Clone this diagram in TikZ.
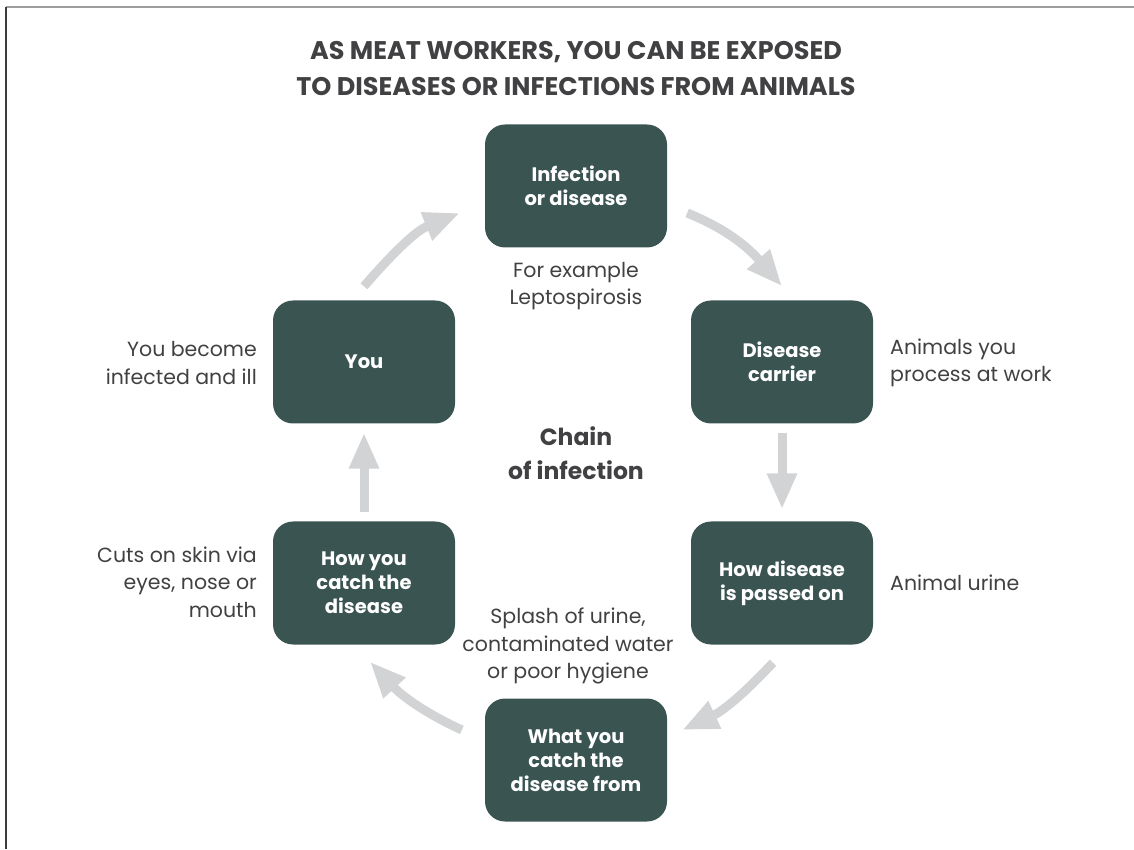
\documentclass[tikz,border=0pt]{standalone}
\usepackage{fontspec}
\setmainfont{Poppins}
\usetikzlibrary{arrows.meta,calc}
\definecolor{boxgreen}{HTML}{3A5452}
\definecolor{inkgray}{HTML}{414042}
\definecolor{arrowgray}{HTML}{D1D3D4}
\definecolor{framegray}{HTML}{9D9D9D}
\definecolor{framedark}{HTML}{3C3C3C}
\begin{document}
\begin{tikzpicture}[x=1pt,y=1pt,
            chainbox/.style={fill=boxgreen,rounded corners=20pt,minimum width=182pt,minimum height=123pt,
                text=white,align=center,font=\fontsize{19.5}{24}\selectfont\bfseries},
            sidenote/.style={text=inkgray,inner sep=0pt,font=\fontsize{20.5}{27.5}\selectfont},
            flow/.style={draw=arrowgray,line width=9pt,-{Triangle[width=28pt,length=36pt]}}]
            \useasboundingbox (0,0) rectangle (1134,849);
            \draw[framegray,line width=2pt] (6,842) -- (1134,842);
            \draw[framedark,line width=1.5pt] (6,842) -- (6,0);
            \node[text=inkgray,align=center,font=\fontsize{25.5}{36}\selectfont\bfseries] (title) at (576,780)
                {AS MEAT WORKERS, YOU CAN BE EXPOSED\\TO DISEASES OR INFECTIONS FROM ANIMALS};
            \node[chainbox] (infection) at (576,663) {Infection\\or disease};
            \node[chainbox] (carrier) at (782,487) {Disease\\carrier};
            \node[chainbox] (passed) at (782,266) {How disease\\is passed on};
            \node[chainbox] (source) at (576,89) {What you\\catch the\\disease from};
            \node[chainbox] (catch) at (364,266) {How you\\catch the\\disease};
            \node[chainbox] (you) at (364,487) {You};
            \node[sidenote,align=center] (example) at (576,563) {For example\\Leptospirosis};
            \node[sidenote,align=left,anchor=west] (animals) at (890,486) {Animals you\\process at work};
            \node[sidenote,align=left,anchor=west] (urine) at (890,266) {Animal urine};
            \node[sidenote,align=center] (splash) at (568,203) {Splash of urine,\\contaminated water\\or poor hygiene};
            \node[sidenote,align=right,anchor=east] (ill) at (257,486) {You become\\infected and ill};
            \node[sidenote,align=right,anchor=east] (cuts) at (257,267) {Cuts on skin via\\eyes, nose or\\mouth};
            \node[text=inkgray,align=center,font=\fontsize{23.5}{34}\selectfont\bfseries] (chain) at (576,396)
                {Chain\\of infection};
            \coordinate (a1s) at ($(you.north)+(0,14)$);
            \coordinate (a1e) at ($(infection.west)+(-25,-27)$);
            \coordinate (a2s) at ($(infection.east)+(20,-27)$);
            \coordinate (a2e) at ($(carrier.north)+(0,14)$);
            \coordinate (a4s) at ($(passed.south)+(-9,-18)$);
            \coordinate (a4e) at ($(source.east)+(15,30)$);
            \coordinate (a5s) at ($(source.west)+(-23,30)$);
            \coordinate (a5e) at ($(catch.south)+(6,-17)$);
            \draw[flow] (a1s) to[out=49,in=-158] (a1e);
            \draw[flow] (a2s) to[out=-22,in=131] (a2e);
            \draw[flow,shorten <=9pt,shorten >=12pt] (carrier) -- (passed);
            \draw[flow] (a4s) to[out=-133,in=25] (a4e);
            \draw[flow] (a5s) to[out=155,in=-47] (a5e);
            \draw[flow,shorten <=9pt,shorten >=9pt] (catch) -- (you);
         \end{tikzpicture}
\end{document}
